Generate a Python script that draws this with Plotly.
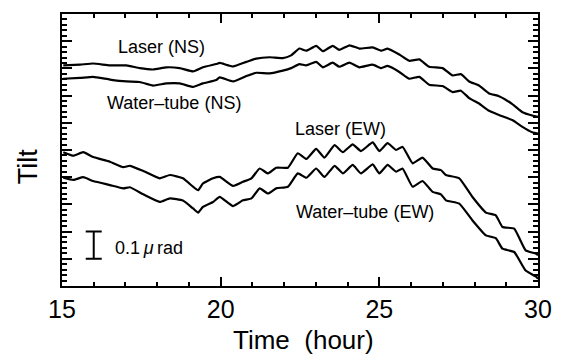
import plotly.graph_objects as go

# ---- data (time in hours, tilt in micro-radians, arbitrary offset) ----
t_ns = [15.04, 15.57, 15.98, 16.51, 17.03, 17.45, 17.87, 18.29, 18.71, 19.13, 19.44, 19.86,
        19.97, 20.39, 20.81, 21.12, 21.54, 21.96, 22.22, 22.48, 22.70, 23.01, 23.22, 23.53,
        23.74, 24.06, 24.37, 24.79, 25.06,
        25.26, 25.63, 25.94, 26.26, 26.57, 26.99, 27.31, 27.57, 27.83, 28.14, 28.46, 28.77,
        29.19, 29.51, 29.82, 30.0]
laser_ns = [0.811, 0.814, 0.818, 0.811, 0.811, 0.801, 0.796, 0.804, 0.801, 0.789, 0.804, 0.816,
            0.820, 0.807, 0.824, 0.836, 0.841, 0.838, 0.848, 0.873, 0.865, 0.883, 0.863, 0.883,
            0.868, 0.885, 0.873, 0.877, 0.865,
            0.873, 0.851, 0.828, 0.833, 0.806, 0.801, 0.774, 0.779, 0.752, 0.737, 0.708, 0.698,
            0.669, 0.639, 0.627, 0.622]
water_ns = [0.762, 0.765, 0.769, 0.759, 0.752, 0.750, 0.737, 0.745, 0.745, 0.732, 0.745, 0.757,
            0.767, 0.752, 0.772, 0.784, 0.782, 0.792, 0.801, 0.816, 0.811, 0.824, 0.804, 0.821,
            0.806, 0.821, 0.804, 0.814, 0.801,
            0.809, 0.787, 0.762, 0.769, 0.740, 0.735, 0.713, 0.718, 0.691, 0.671, 0.644, 0.629,
            0.610, 0.585, 0.565, 0.560]

t_ew = [15.04, 15.36, 15.67, 15.98, 16.51, 16.93, 17.14, 17.56, 18.08, 18.40, 18.81, 19.13,
        19.29, 19.44, 19.76,
        19.97, 20.39, 20.70, 20.97, 21.23, 21.49, 21.75, 22.12, 22.43, 22.70, 23.01, 23.27,
        23.59, 23.85, 24.16, 24.42, 24.79,
        25.00, 25.26, 25.53, 25.73, 26.05, 26.36, 26.68, 26.94, 27.10, 27.52, 27.93, 28.36,
        28.67, 28.88, 29.25, 29.61, 29.93, 30.0]
laser_ew = [0.492, 0.479, 0.492, 0.474, 0.457, 0.437, 0.442, 0.423, 0.396, 0.408, 0.396, 0.365,
            0.352, 0.377, 0.396,
            0.401, 0.368, 0.383, 0.396, 0.432, 0.414, 0.435, 0.435, 0.488, 0.467, 0.504, 0.472,
            0.518, 0.492, 0.521, 0.496, 0.528,
            0.496, 0.525, 0.500, 0.512, 0.451, 0.472, 0.432, 0.426, 0.408, 0.396, 0.328, 0.270,
            0.260, 0.217, 0.211, 0.131, 0.119, 0.113]
water_ew = [0.398, 0.390, 0.400, 0.386, 0.371, 0.359, 0.363, 0.337, 0.309, 0.322, 0.314, 0.285,
            0.270, 0.291, 0.309,
            0.328, 0.294, 0.315, 0.322, 0.359, 0.340, 0.359, 0.365, 0.414, 0.398, 0.432, 0.401,
            0.442, 0.414, 0.445, 0.414, 0.447,
            0.414, 0.445, 0.420, 0.432, 0.365, 0.386, 0.346, 0.337, 0.315, 0.303, 0.242, 0.186,
            0.176, 0.137, 0.125, 0.057, 0.035, 0.027]

x_ticks = [15, 20, 25, 30]
scale_bar_t = 16.0
scale_bar_center = 0.15
scale_bar_half = 0.05

FONT = "Arial, 'Liberation Sans', Helvetica, sans-serif"
line = dict(color="black", width=2.2, shape="spline", smoothing=0.4)

fig = go.Figure()
for name, t, y in [("Laser (NS)", t_ns, laser_ns), ("Water-tube (NS)", t_ns, water_ns),
                   ("Laser (EW)", t_ew, laser_ew), ("Water-tube (EW)", t_ew, water_ew)]:
    fig.add_trace(go.Scatter(x=t, y=y, mode="lines", line=line, name=name, showlegend=False))

# scale bar (0.1 micro-rad)
fig.add_trace(go.Scatter(
    x=[scale_bar_t], y=[scale_bar_center], mode="markers",
    marker=dict(size=1, color="rgba(0,0,0,0)"),
    error_y=dict(type="constant", value=scale_bar_half, width=8, thickness=2, color="black"),
    showlegend=False, hoverinfo="skip"))

annos = [
    ("Laser (NS)", 18.14, 0.880, "center"),
    ("Water\u2013tube (NS)", 18.52, 0.673, "center"),
    ("Laser (EW)", 23.77, 0.577, "center"),
    ("Water\u2013tube (EW)", 24.56, 0.271, "center"),
    ("0.1\u2009<i>\u03bc</i>\u2009rad", 16.60, 0.140, "left"),
]
for text, x, y, xa in annos:
    fig.add_annotation(x=x, y=y, text=text, showarrow=False, xanchor=xa, yanchor="middle",
                       font=dict(family=FONT, size=18, color="black"))

# axis titles
fig.add_annotation(xref="paper", yref="paper", x=0.507, y=-0.198, text="Time\u00a0 (hour)",
                   showarrow=False, xanchor="center", yanchor="middle",
                   font=dict(family=FONT, size=26, color="black"))
fig.add_annotation(xref="paper", yref="paper", x=-0.071, y=0.437, text="Tilt", textangle=-90,
                   showarrow=False, xanchor="center", yanchor="middle",
                   font=dict(family=FONT, size=27, color="black"))

fig.update_layout(
    width=567, height=355,
    margin=dict(l=62, r=29, t=14, b=69),
    paper_bgcolor="white", plot_bgcolor="white",
    font=dict(family=FONT, color="black"),
)
fig.update_xaxes(
    range=[15, 30], tickvals=x_ticks, ticktext=[str(v) for v in x_ticks],
    ticks="inside", ticklen=9, tickwidth=1.5, tickcolor="black",
    minor=dict(dtick=1, ticks="inside", ticklen=4, tickwidth=1.5, tickcolor="black"),
    showline=True, linecolor="black", linewidth=2, mirror="ticks",
    showgrid=False, zeroline=False, automargin=False,
    tickfont=dict(family=FONT, size=25, color="black"),
)
fig.update_yaxes(
    range=[0, 1.0], dtick=0.1, tick0=0, showticklabels=False,
    ticks="inside", ticklen=10, tickwidth=1.5, tickcolor="black",
    minor=dict(dtick=0.02, ticks="inside", ticklen=5, tickwidth=1.5, tickcolor="black"),
    showline=True, linecolor="black", linewidth=2, mirror="ticks",
    showgrid=False, zeroline=False, automargin=False,
)

fig.write_html("out.html", config={"displayModeBar": False},
               post_script="document.body.style.margin='0px';document.body.style.overflow='hidden';")
